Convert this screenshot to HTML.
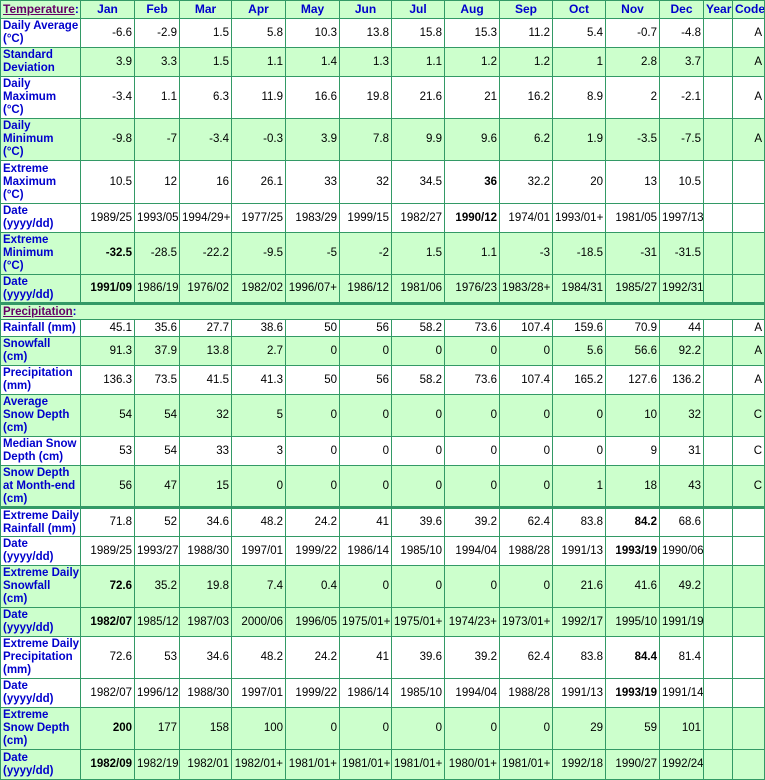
<!DOCTYPE html>
<html><head><meta charset="utf-8"><style>
body{margin:0;background:#fff;}
table{border-collapse:collapse;table-layout:fixed;width:764px;font-family:"Liberation Sans",Arial,sans-serif;font-size:11.5px;color:#000;}
td{border:1px solid #339966;padding:0 2px;text-align:right;vertical-align:middle;overflow:hidden;white-space:nowrap;line-height:13px;}
td.l{text-align:left;font-family:"Liberation Sans",Arial,sans-serif;font-weight:bold;font-size:11.5px;color:#0000cc;line-height:13px;padding:0 2px;}
tr.g td{background:#ccffcc;}
tr.h td{text-align:center;font-weight:bold;font-size:12px;color:#0000cc;}
tr.t td{border-top:3px solid #339966;}
.s{color:#660066;text-decoration:underline;}
b{font-weight:bold;}
</style></head><body>
<table>
<colgroup><col style="width:80px"><col style="width:54px"><col style="width:45px"><col style="width:52px"><col style="width:54px"><col style="width:54px"><col style="width:52px"><col style="width:53px"><col style="width:55px"><col style="width:53px"><col style="width:53px"><col style="width:54px"><col style="width:44px"><col style="width:29px"><col style="width:32px"></colgroup>
<tr class="g h" style="height:18px"><td class="l"><span class="s">Temperature</span>:</td><td>Jan</td><td>Feb</td><td>Mar</td><td>Apr</td><td>May</td><td>Jun</td><td>Jul</td><td>Aug</td><td>Sep</td><td>Oct</td><td>Nov</td><td>Dec</td><td>Year</td><td>Code</td></tr>
<tr style="height:29px"><td class="l">Daily Average<br>(°C)</td><td>-6.6</td><td>-2.9</td><td>1.5</td><td>5.8</td><td>10.3</td><td>13.8</td><td>15.8</td><td>15.3</td><td>11.2</td><td>5.4</td><td>-0.7</td><td>-4.8</td><td></td><td>A</td></tr>
<tr class="g" style="height:29px"><td class="l">Standard<br>Deviation</td><td>3.9</td><td>3.3</td><td>1.5</td><td>1.1</td><td>1.4</td><td>1.3</td><td>1.1</td><td>1.2</td><td>1.2</td><td>1</td><td>2.8</td><td>3.7</td><td></td><td>A</td></tr>
<tr style="height:42px"><td class="l">Daily<br>Maximum<br>(°C)</td><td>-3.4</td><td>1.1</td><td>6.3</td><td>11.9</td><td>16.6</td><td>19.8</td><td>21.6</td><td>21</td><td>16.2</td><td>8.9</td><td>2</td><td>-2.1</td><td></td><td>A</td></tr>
<tr class="g" style="height:42px"><td class="l">Daily<br>Minimum<br>(°C)</td><td>-9.8</td><td>-7</td><td>-3.4</td><td>-0.3</td><td>3.9</td><td>7.8</td><td>9.9</td><td>9.6</td><td>6.2</td><td>1.9</td><td>-3.5</td><td>-7.5</td><td></td><td>A</td></tr>
<tr style="height:43px"><td class="l">Extreme<br>Maximum<br>(°C)</td><td>10.5</td><td>12</td><td>16</td><td>26.1</td><td>33</td><td>32</td><td>34.5</td><td><b>36</b></td><td>32.2</td><td>20</td><td>13</td><td>10.5</td><td></td><td></td></tr>
<tr style="height:29px"><td class="l">Date<br>(yyyy/dd)</td><td>1989/25</td><td>1993/05</td><td>1994/29+</td><td>1977/25</td><td>1983/29</td><td>1999/15</td><td>1982/27</td><td><b>1990/12</b></td><td>1974/01</td><td>1993/01+</td><td>1981/05</td><td>1997/13</td><td></td><td></td></tr>
<tr class="g" style="height:42px"><td class="l">Extreme<br>Minimum<br>(°C)</td><td><b>-32.5</b></td><td>-28.5</td><td>-22.2</td><td>-9.5</td><td>-5</td><td>-2</td><td>1.5</td><td>1.1</td><td>-3</td><td>-18.5</td><td>-31</td><td>-31.5</td><td></td><td></td></tr>
<tr class="g" style="height:29px"><td class="l">Date<br>(yyyy/dd)</td><td><b>1991/09</b></td><td>1986/19</td><td>1976/02</td><td>1982/02</td><td>1996/07+</td><td>1986/12</td><td>1981/06</td><td>1976/23</td><td>1983/28+</td><td>1984/31</td><td>1985/27</td><td>1992/31</td><td></td><td></td></tr>
<tr class="g t" style="height:16px"><td class="l" colspan="15"><span class="s">Precipitation</span>:</td></tr>
<tr style="height:17px"><td class="l">Rainfall (mm)</td><td>45.1</td><td>35.6</td><td>27.7</td><td>38.6</td><td>50</td><td>56</td><td>58.2</td><td>73.6</td><td>107.4</td><td>159.6</td><td>70.9</td><td>44</td><td></td><td>A</td></tr>
<tr class="g" style="height:29px"><td class="l">Snowfall<br>(cm)</td><td>91.3</td><td>37.9</td><td>13.8</td><td>2.7</td><td>0</td><td>0</td><td>0</td><td>0</td><td>0</td><td>5.6</td><td>56.6</td><td>92.2</td><td></td><td>A</td></tr>
<tr style="height:29px"><td class="l">Precipitation<br>(mm)</td><td>136.3</td><td>73.5</td><td>41.5</td><td>41.3</td><td>50</td><td>56</td><td>58.2</td><td>73.6</td><td>107.4</td><td>165.2</td><td>127.6</td><td>136.2</td><td></td><td>A</td></tr>
<tr class="g" style="height:42px"><td class="l">Average<br>Snow Depth<br>(cm)</td><td>54</td><td>54</td><td>32</td><td>5</td><td>0</td><td>0</td><td>0</td><td>0</td><td>0</td><td>0</td><td>10</td><td>32</td><td></td><td>C</td></tr>
<tr style="height:29px"><td class="l">Median Snow<br>Depth (cm)</td><td>53</td><td>54</td><td>33</td><td>3</td><td>0</td><td>0</td><td>0</td><td>0</td><td>0</td><td>0</td><td>9</td><td>31</td><td></td><td>C</td></tr>
<tr class="g" style="height:42px"><td class="l">Snow Depth<br>at Month-end<br>(cm)</td><td>56</td><td>47</td><td>15</td><td>0</td><td>0</td><td>0</td><td>0</td><td>0</td><td>0</td><td>1</td><td>18</td><td>43</td><td></td><td>C</td></tr>
<tr class="t" style="height:29px"><td class="l">Extreme Daily<br>Rainfall (mm)</td><td>71.8</td><td>52</td><td>34.6</td><td>48.2</td><td>24.2</td><td>41</td><td>39.6</td><td>39.2</td><td>62.4</td><td>83.8</td><td><b>84.2</b></td><td>68.6</td><td></td><td></td></tr>
<tr style="height:29px"><td class="l">Date<br>(yyyy/dd)</td><td>1989/25</td><td>1993/27</td><td>1988/30</td><td>1997/01</td><td>1999/22</td><td>1986/14</td><td>1985/10</td><td>1994/04</td><td>1988/28</td><td>1991/13</td><td><b>1993/19</b></td><td>1990/06</td><td></td><td></td></tr>
<tr class="g" style="height:42px"><td class="l">Extreme Daily<br>Snowfall<br>(cm)</td><td><b>72.6</b></td><td>35.2</td><td>19.8</td><td>7.4</td><td>0.4</td><td>0</td><td>0</td><td>0</td><td>0</td><td>21.6</td><td>41.6</td><td>49.2</td><td></td><td></td></tr>
<tr class="g" style="height:29px"><td class="l">Date<br>(yyyy/dd)</td><td><b>1982/07</b></td><td>1985/12</td><td>1987/03</td><td>2000/06</td><td>1996/05</td><td>1975/01+</td><td>1975/01+</td><td>1974/23+</td><td>1973/01+</td><td>1992/17</td><td>1995/10</td><td>1991/19</td><td></td><td></td></tr>
<tr style="height:42px"><td class="l">Extreme Daily<br>Precipitation<br>(mm)</td><td>72.6</td><td>53</td><td>34.6</td><td>48.2</td><td>24.2</td><td>41</td><td>39.6</td><td>39.2</td><td>62.4</td><td>83.8</td><td><b>84.4</b></td><td>81.4</td><td></td><td></td></tr>
<tr style="height:29px"><td class="l">Date<br>(yyyy/dd)</td><td>1982/07</td><td>1996/12</td><td>1988/30</td><td>1997/01</td><td>1999/22</td><td>1986/14</td><td>1985/10</td><td>1994/04</td><td>1988/28</td><td>1991/13</td><td><b>1993/19</b></td><td>1991/14</td><td></td><td></td></tr>
<tr class="g" style="height:42px"><td class="l">Extreme<br>Snow Depth<br>(cm)</td><td><b>200</b></td><td>177</td><td>158</td><td>100</td><td>0</td><td>0</td><td>0</td><td>0</td><td>0</td><td>29</td><td>59</td><td>101</td><td></td><td></td></tr>
<tr class="g" style="height:30px"><td class="l">Date<br>(yyyy/dd)</td><td><b>1982/09</b></td><td>1982/19</td><td>1982/01</td><td>1982/01+</td><td>1981/01+</td><td>1981/01+</td><td>1981/01+</td><td>1980/01+</td><td>1981/01+</td><td>1992/18</td><td>1990/27</td><td>1992/24</td><td></td><td></td></tr>
</table>
</body></html>
